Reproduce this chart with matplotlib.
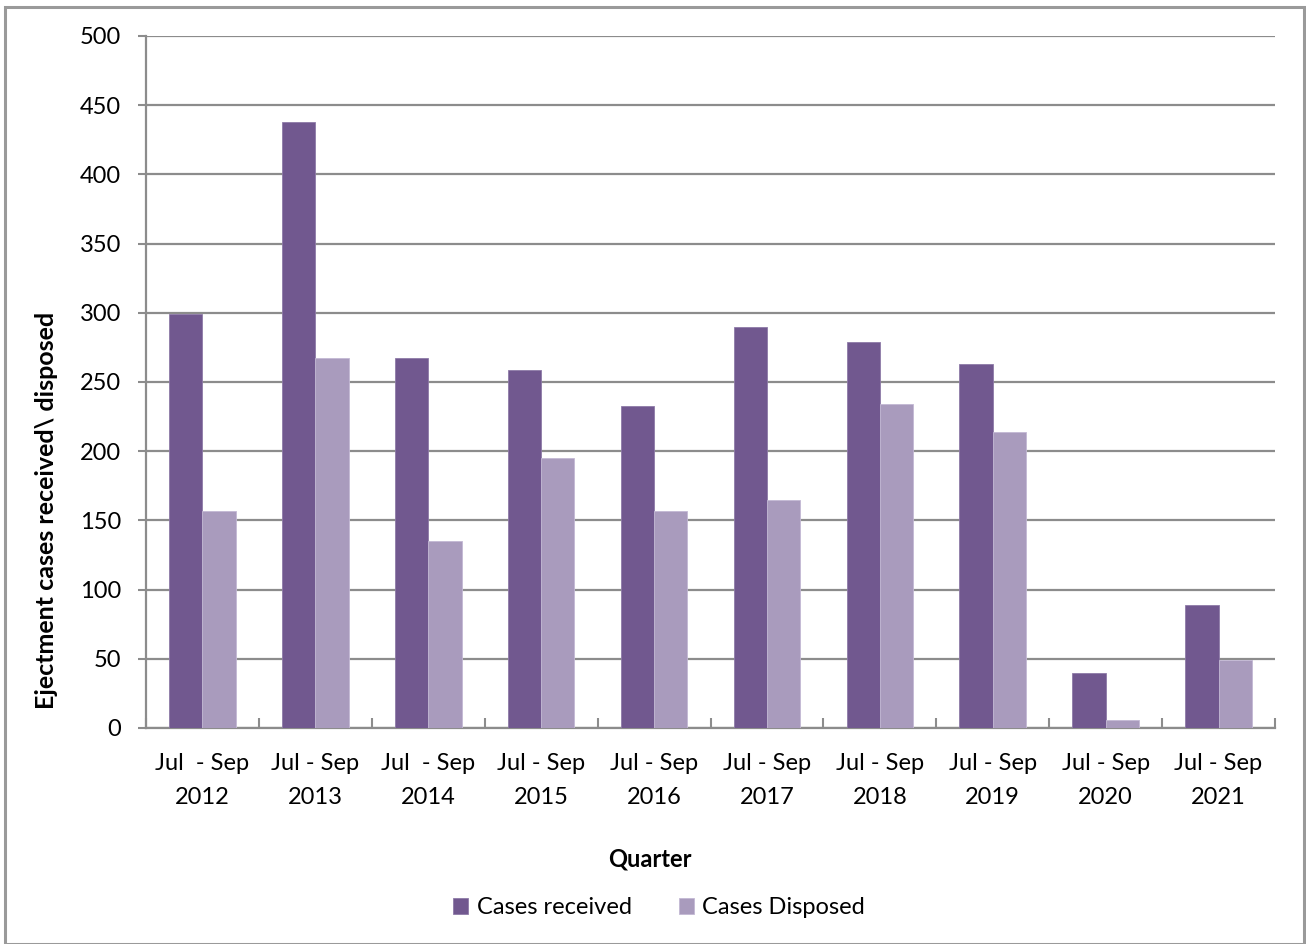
import matplotlib
matplotlib.use("Agg")
import matplotlib.pyplot as plt
from matplotlib.patches import Rectangle
import numpy as np

plt.rcParams['font.family'] = ['Lato', 'DejaVu Sans']

quarters = ["Jul  - Sep\n2012", "Jul - Sep\n2013", "Jul  - Sep\n2014", "Jul - Sep\n2015",
            "Jul - Sep\n2016", "Jul - Sep\n2017", "Jul - Sep\n2018", "Jul - Sep\n2019",
            "Jul - Sep\n2020", "Jul - Sep\n2021"]
cases_received = [299, 438, 267, 259, 233, 290, 279, 263, 40, 89]
cases_disposed = [157, 267, 135, 195, 157, 165, 234, 214, 6, 49]
y_ticks = [0, 50, 100, 150, 200, 250, 300, 350, 400, 450, 500]

c_recv = "#71588F"
c_disp = "#A99BBD"
grid_c = "#8C8C8C"
FS = 17

fig = plt.figure(figsize=(13.06, 9.44), dpi=100)
ax = fig.add_axes([146 / 1306, 1 - 728 / 944, (1275 - 146) / 1306, (728 - 36) / 944])

x = np.arange(len(quarters))
w = 0.295
ax.bar(x - w / 2, cases_received, width=w, color=c_recv, edgecolor="#8E7AA8",
       linewidth=0.6, label="Cases received", zorder=3)
ax.bar(x + w / 2, cases_disposed, width=w, color=c_disp, edgecolor="#C3B8D4",
       linewidth=0.6, label="Cases Disposed", zorder=3)

ax.set_xlim(-0.5, len(quarters) - 0.5)
ax.set_ylim(0, 500)
ax.set_yticks(y_ticks)
ax.set_yticklabels([str(v) for v in y_ticks])
ax.yaxis.grid(True, color=grid_c, linewidth=1.6, zorder=0)
ax.set_axisbelow(True)

# category labels centred under each group, tick marks on the group boundaries
ax.set_xticks(x)
ax.set_xticklabels(quarters, linespacing=1.75)
ax.set_xticks(np.arange(len(quarters) + 1) - 0.5, minor=True)
ax.tick_params(axis="x", which="major", length=0, pad=18, labelsize=FS)
ax.tick_params(axis="x", which="minor", direction="in", length=7, color=grid_c, width=1.5)
ax.tick_params(axis="y", direction="out", length=6, color=grid_c, width=1.5, pad=12,
               labelsize=FS)

for side in ("top", "right"):
    ax.spines[side].set_visible(False)
for side in ("left", "bottom"):
    ax.spines[side].set_color(grid_c)
    ax.spines[side].set_linewidth(1.6)

ax.set_ylabel("Ejectment cases received\\ disposed", fontsize=18, fontweight="bold")
ax.yaxis.set_label_coords(-0.078, 0.315)
fig.text(650 / 1306, 1 - 859 / 944, "Quarter", ha="center", va="center",
         fontsize=FS, fontweight="bold")

ax.legend(loc="center", bbox_to_anchor=(659 / 1306, 1 - 908 / 944),
          bbox_transform=fig.transFigure, ncol=2, frameon=False, fontsize=FS,
          handlelength=0.65, handleheight=0.65, handletextpad=0.35, columnspacing=2.0)

# outer chart frame
fig.patches.append(Rectangle((5 / 1306, 0), (1304 - 5) / 1306, 1 - 7 / 944,
                             transform=fig.transFigure, fill=False,
                             edgecolor="#9A9A9A", linewidth=2.2))

fig.savefig("out.png", dpi=100, facecolor="white")
